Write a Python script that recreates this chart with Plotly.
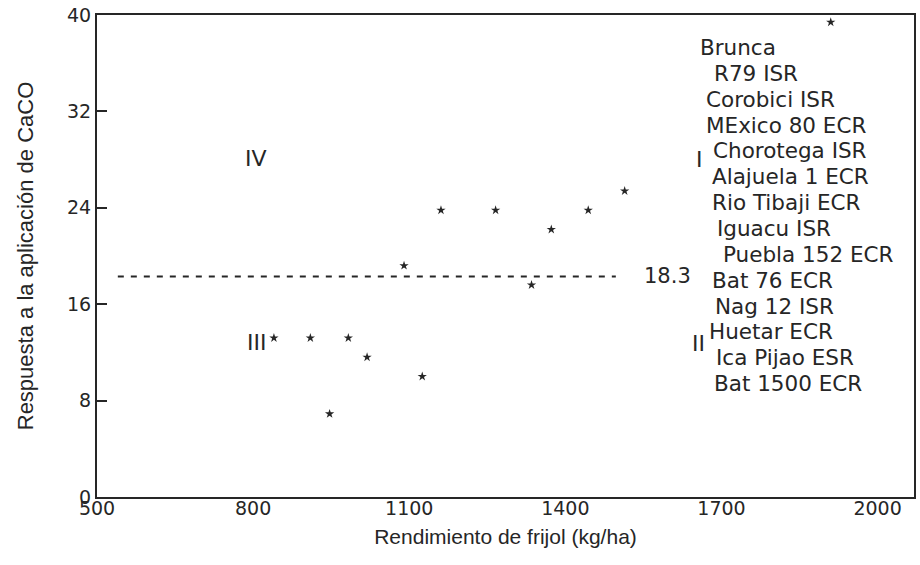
import plotly.graph_objects as go

# Rendimiento de frijol (kg/ha) y respuesta a la aplicación de CaCO por genotipo
rendimiento = [840, 910, 983, 1019, 1125, 947, 1090, 1161, 1266, 1373, 1335, 1444, 1514, 1910]
respuesta = [13.2, 13.2, 13.2, 11.6, 10.0, 6.9, 19.2, 23.8, 23.8, 22.2, 17.6, 23.8, 25.4, 39.4]

# Respuesta media y tramo de la línea de referencia
respuesta_media = 18.3
tramo_media = [540, 1497]

genotipos = [
    "Brunca", "R79 ISR", "Corobici ISR", "MExico 80 ECR", "Chorotega ISR",
    "Alajuela 1 ECR", "Rio Tibaji ECR", "Iguacu ISR", "Puebla 152 ECR",
    "Bat 76 ECR", "Nag 12 ISR", "Huetar ECR", "Ica Pijao ESR", "Bat 1500 ECR",
]
cuadrantes = ["I", "II", "III", "IV"]

x_ticks = [500, 800, 1100, 1400, 1700, 2000]
y_ticks = [0, 8, 16, 24, 32, 40]

# --- layout helpers (placement of the text blocks) ---
cuadrante_pos = {"I": (1658, 28.0), "II": (1656, 12.75), "III": (807, 12.8), "IV": (805, 28.1)}
lista_x0, lista_y0, lista_paso = 1654, 37.3, 2.145
lista_sangria = [0, 14, 6, 6, 13, 12, 12, 17, 23, 12, 15, 9, 16, 14]

INK = "#262626"
SANS = "Liberation Sans, Arial, sans-serif"
WIDE = "DejaVu Sans, sans-serif"

fig = go.Figure()

fig.add_trace(go.Scatter(
    x=tramo_media, y=[respuesta_media, respuesta_media], mode="lines",
    line=dict(color=INK, width=2, dash="6px,7px"), hoverinfo="skip", showlegend=False,
))

fig.add_trace(go.Scatter(
    x=rendimiento, y=respuesta, mode="markers",
    marker=dict(symbol="star", size=7, color=INK, line=dict(width=0)),
    showlegend=False,
))

annotations = []
annotations.append(dict(
    x=tramo_media[1], y=respuesta_media, xref="x", yref="y", text=f"{respuesta_media}",
    showarrow=False, xanchor="left", xshift=26, font=dict(family=WIDE, size=21, color=INK),
))
for c in cuadrantes:
    cx, cy = cuadrante_pos[c]
    annotations.append(dict(
        x=cx, y=cy, xref="x", yref="y", text=c, showarrow=False,
        font=dict(family=WIDE, size=22, color=INK),
    ))
for i, g in enumerate(genotipos):
    annotations.append(dict(
        x=lista_x0, y=lista_y0 - i * lista_paso, xref="x", yref="y", text=g,
        showarrow=False, xanchor="left", xshift=lista_sangria[i],
        font=dict(family=WIDE, size=21.5, color=INK),
    ))

fig.update_layout(
    width=920, height=565,
    margin=dict(l=97, r=4, t=14, b=68),
    paper_bgcolor="white", plot_bgcolor="white",
    annotations=annotations,
    xaxis=dict(
        range=[500, 2070], tickvals=x_ticks, ticks="", showgrid=False, zeroline=False,
        showline=True, mirror=True, linecolor=INK, linewidth=2,
        tickfont=dict(family=WIDE, size=19, color=INK), ticklabelstandoff=-7,
        title=dict(text="Rendimiento de frijol (kg/ha)", font=dict(family=SANS, size=21, color=INK), standoff=12),
    ),
    yaxis=dict(
        range=[0, 40], tickvals=y_ticks, ticks="inside", ticklen=10, tickwidth=2, tickcolor=INK,
        showgrid=False, zeroline=False,
        showline=True, mirror=True, linecolor=INK, linewidth=2,
        tickfont=dict(family=WIDE, size=19, color=INK),
        title=dict(text="Respuesta a la aplicación de CaCO", font=dict(family=SANS, size=22, color=INK), standoff=27),
    ),
)

fig.write_html("out.html")
